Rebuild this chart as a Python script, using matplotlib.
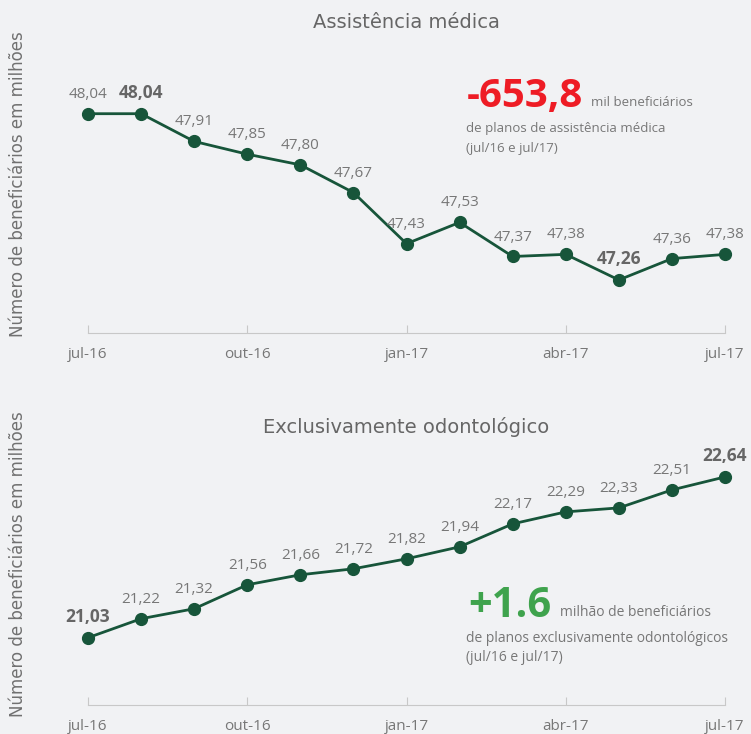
import matplotlib.pyplot as plt

months = ["jul-16", "ago-16", "set-16", "out-16", "nov-16", "dez-16", "jan-17",
          "fev-17", "mar-17", "abr-17", "mai-17", "jun-17", "jul-17"]
medica = [48.04, 48.04, 47.91, 47.85, 47.80, 47.67, 47.43, 47.53, 47.37, 47.38, 47.26, 47.36, 47.38]
odonto = [21.03, 21.22, 21.32, 21.56, 21.66, 21.72, 21.82, 21.94, 22.17, 22.29, 22.33, 22.51, 22.64]
medica_bold = [1, 10]
odonto_bold = [0, 12]
tick_idx = [0, 3, 6, 9, 12]

W, H = 751, 734
BG = "#f1f2f4"
GREEN = "#17553a"
GRAY = "#777777"
FONT = ["Open Sans", "DejaVu Sans"]

fig = plt.figure(figsize=(W / 100, H / 100), dpi=100, facecolor=BG)


def fx(px):
    return px / W


def fy(py):
    return 1 - py / H


def panel(top_px, bottom_px, values, bold, ylim, title, title_y, ylabel_y):
    ax = fig.add_axes([fx(88), fy(bottom_px), fx(725) - fx(88), (bottom_px - top_px) / H])
    ax.set_facecolor(BG)
    x = list(range(len(values)))
    ax.plot(x, values, color=GREEN, lw=2, marker="o", ms=8.5, clip_on=False, zorder=3)
    for i, v in enumerate(values):
        lbl = f"{v:.2f}".replace(".", ",")
        if i in bold:
            ax.annotate(lbl, (i, v), xytext=(0, 15), textcoords="offset points",
                        ha="center", va="center", fontsize=12.5, fontweight="bold",
                        color="#666666", family=FONT)
        else:
            ax.annotate(lbl, (i, v), xytext=(0, 14), textcoords="offset points",
                        ha="center", va="center", fontsize=11, color=GRAY, family=FONT)
    ax.set_xlim(0, len(values) - 1)
    ax.set_ylim(*ylim)
    ax.set_xticks(tick_idx)
    ax.set_xticklabels([months[i] for i in tick_idx], family=FONT, fontsize=11, color=GRAY)
    ax.tick_params(axis="x", direction="in", length=6, color="#c8c8c8", pad=10)
    ax.set_yticks([])
    for s in ["left", "right", "top"]:
        ax.spines[s].set_visible(False)
    ax.spines["bottom"].set_color("#c8c8c8")
    fig.text(fx(406), fy(title_y), title, ha="center", va="center", fontsize=14,
             color="#666666", family="DejaVu Sans")
    fig.text(fx(18), fy(ylabel_y), "Número de beneficiários em milhões",
             rotation=90, ha="center", va="center", fontsize=12, color="#707070")
    return ax


panel(60, 333, medica, medica_bold, (47.011, 48.292), "Assistência médica", 22, 184)
panel(430, 705, odonto, odonto_bold, (20.356, 23.11), "Exclusivamente odontológico", 427, 564)

# annotation top
fig.text(fx(467), fy(107), "-653,8", fontsize=29, fontweight="bold", color="#ee1c25",
         family=FONT, ha="left", va="baseline")
fig.text(fx(591), fy(106), "mil beneficiários", fontsize=9.5, color=GRAY, family=FONT,
         ha="left", va="baseline")
fig.text(fx(466), fy(132), "de planos de assistência médica", fontsize=9.5, color=GRAY,
         family=FONT, ha="left", va="baseline")
fig.text(fx(466), fy(152), "(jul/16 e jul/17)", fontsize=9.5, color=GRAY, family=FONT,
         ha="left", va="baseline")

# annotation bottom
fig.text(fx(468), fy(617), "+1.6", fontsize=30, fontweight="bold", color="#3fa34d",
         family=FONT, ha="left", va="baseline")
fig.text(fx(560), fy(616), "milhão de beneficiários", fontsize=10, color=GRAY,
         family=FONT, ha="left", va="baseline")
fig.text(fx(466), fy(642), "de planos exclusivamente odontológicos", fontsize=10,
         color=GRAY, family=FONT, ha="left", va="baseline")
fig.text(fx(466), fy(661), "(jul/16 e jul/17)", fontsize=10, color=GRAY,
         family=FONT, ha="left", va="baseline")

fig.savefig("out.png", dpi=100, facecolor=BG)
